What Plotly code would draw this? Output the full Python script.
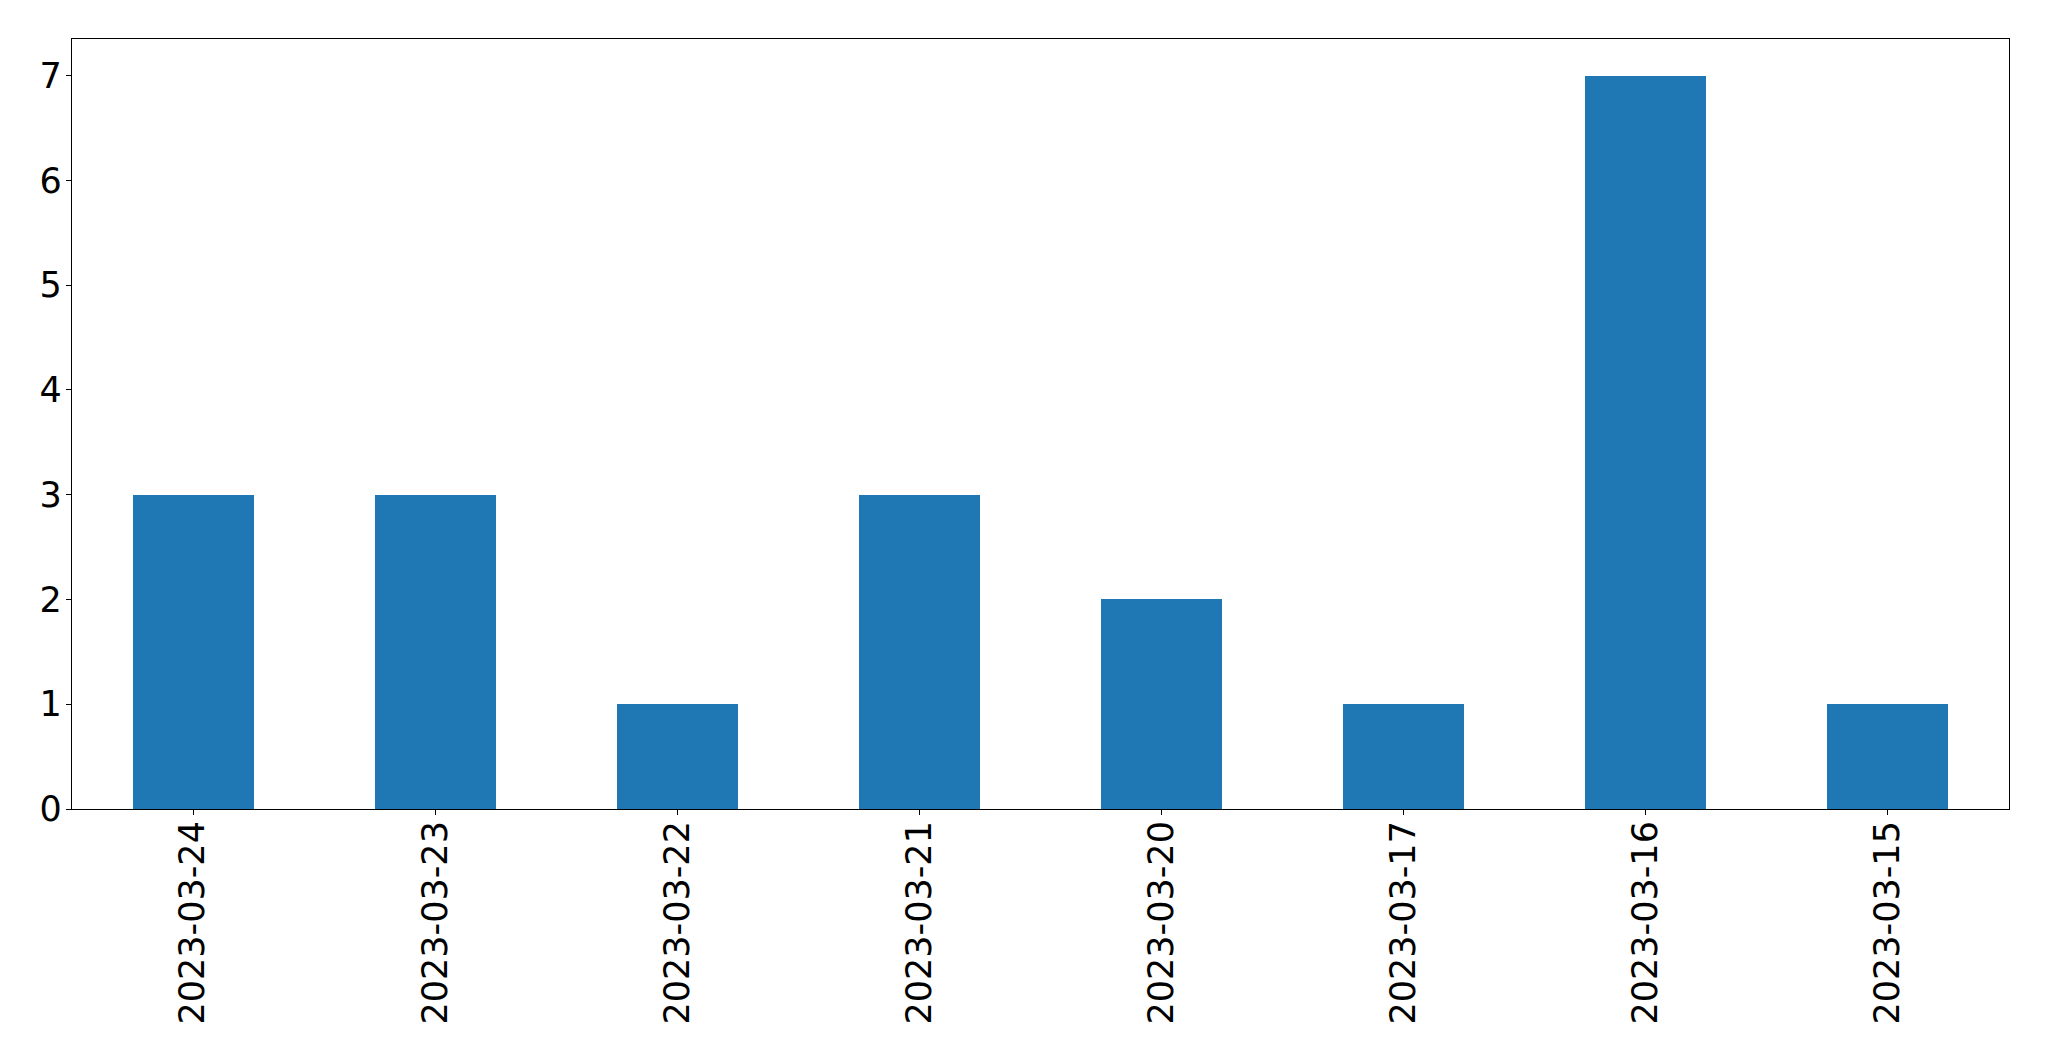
import plotly.graph_objects as go

dates = ["2023-03-24", "2023-03-23", "2023-03-22", "2023-03-21",
         "2023-03-20", "2023-03-17", "2023-03-16", "2023-03-15"]
counts = [3, 3, 1, 3, 2, 1, 7, 1]
y_ticks = [0, 1, 2, 3, 4, 5, 6, 7]

fig = go.Figure()
fig.add_trace(go.Bar(x=dates, y=counts, width=0.5, marker_color="#1f77b4",
                     marker_line_width=0))

font = dict(family="DejaVu Sans", size=35, color="black")
fig.update_layout(
    width=2049, height=1061, autosize=False,
    margin=dict(l=64, r=48, t=31, b=260, pad=0),
    plot_bgcolor="white", paper_bgcolor="white",
    showlegend=False, bargap=0,
    font=font,
)
fig.update_xaxes(type="category", range=[-0.5, 7.5], tickangle=-90,
                 showgrid=False, zeroline=False, showline=True, mirror=True,
                 linecolor="black", linewidth=1.2, ticks="outside", ticklen=5,
                 tickwidth=1.2, tickcolor="black", tickfont=font,
                 ticklabelstandoff=-8)
fig.update_yaxes(range=[0, 7.35], tickvals=y_ticks, showgrid=False,
                 zeroline=False, showline=True, mirror=True,
                 linecolor="black", linewidth=1.2, ticks="outside", ticklen=5,
                 tickwidth=1.2, tickcolor="black", tickfont=font,
                 ticklabelstandoff=-3)

fig.write_html("out.html")
